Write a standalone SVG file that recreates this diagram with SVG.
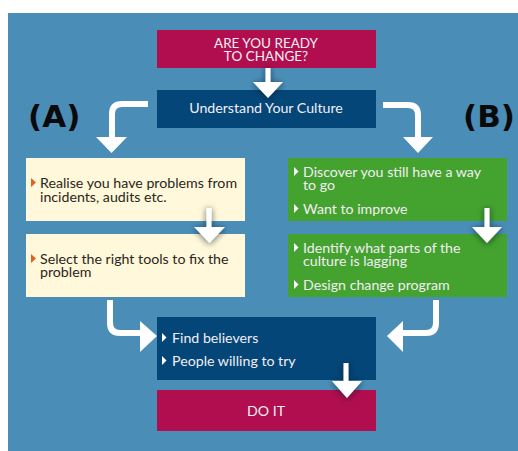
<svg xmlns="http://www.w3.org/2000/svg" width="518" height="451" viewBox="0 0 518 451">
  <style>
    .bg { fill: #4A8EB8; }
    .magenta { fill: #B00E4E; }
    .navy { fill: #044678; }
    .cream { fill: #FFF8DA; }
    .green { fill: #44A22F; }
    .t { font-family: Lato, "Liberation Sans", sans-serif; font-size: 14.2px; }
    .cap { font-size: 13.5px; }
    .light { fill: #F2EEF4; }
    .dark { fill: #2B2620; }
    .ctr { text-anchor: middle; }
    .lbl { font-family: "DejaVu Sans", "Liberation Sans", sans-serif; font-weight: bold; font-size: 31px; fill: #0A0A0A; }
    .wire { fill: none; stroke: #FFFFFF; stroke-width: 6; }
    .stem { fill: none; stroke: #FFFFFF; stroke-width: 5; }
    .head { fill: #FFFFFF; }
    .bul-o { fill: #E2611C; }
    .bul-w { fill: #FFFFFF; }
  </style>
  <defs>
    <filter id="shadow" x="-60%" y="-60%" width="220%" height="220%">
      <feDropShadow dx="0" dy="1" stdDeviation="3" flood-color="#0A1A2A" flood-opacity="0.7"/>
    </filter>
  </defs>

  <rect class="bg" x="8" y="13" width="510" height="438"/>

  <!-- section markers -->
  <text class="lbl" x="28" y="127">(A)</text>
  <text class="lbl" x="463" y="127">(B)</text>

  <g id="ready">
    <rect class="magenta" x="157" y="30" width="219" height="38"/>
    <text class="t cap light ctr" x="266" y="48">ARE YOU READY</text>
    <text class="t cap light ctr" x="266" y="61">TO CHANGE?</text>
  </g>

  <g id="understand">
    <rect class="navy" x="157" y="90" width="219" height="38"/>
    <text class="t light ctr" x="266" y="113">Understand Your Culture</text>
  </g>

  <g id="realise">
    <rect class="cream" x="26" y="158" width="219" height="63"/>
    <polygon class="bul-o" points="31,178 36,182.5 31,187"/>
    <text class="t dark" x="40" y="188">Realise you have problems from</text>
    <text class="t dark" x="40" y="202">incidents, audits etc.</text>
  </g>

  <g id="select">
    <rect class="cream" x="26" y="234" width="219" height="63"/>
    <polygon class="bul-o" points="31,254 36,258.5 31,263"/>
    <text class="t dark" x="40" y="264">Select the right tools to fix the</text>
    <text class="t dark" x="40" y="277">problem</text>
  </g>

  <g id="discover">
    <rect class="green" x="288" y="158" width="219" height="63"/>
    <polygon class="bul-w" points="294,167 298.5,171.5 294,176"/>
    <text class="t light" x="303" y="177">Discover you still have a way</text>
    <text class="t light" x="303" y="190">to go</text>
    <polygon class="bul-w" points="294,204 298.5,208.5 294,213"/>
    <text class="t light" x="303" y="214">Want to improve</text>
  </g>

  <g id="identify">
    <rect class="green" x="288" y="234" width="219" height="63"/>
    <polygon class="bul-w" points="294,243 298.5,247.5 294,252"/>
    <text class="t light" x="303" y="253">Identify what parts of the</text>
    <text class="t light" x="303" y="266">culture is lagging</text>
    <polygon class="bul-w" points="294,280 298.5,284.5 294,289"/>
    <text class="t light" x="303" y="290">Design change program</text>
  </g>

  <g id="believers">
    <rect class="navy" x="157" y="317" width="219" height="63"/>
    <polygon class="bul-w" points="162,333 166.5,337.5 162,342"/>
    <text class="t light" x="172" y="343">Find believers</text>
    <polygon class="bul-w" points="162,356 166.5,360.5 162,365"/>
    <text class="t light" x="172" y="366">People willing to try</text>
  </g>

  <g id="doit">
    <rect class="magenta" x="157" y="390" width="219" height="41"/>
    <text class="t light ctr" x="266" y="416">DO IT</text>
  </g>

  <g id="connectors">
    <!-- ready -> understand -->
    <g filter="url(#shadow)">
      <line class="stem" x1="268" y1="68" x2="268" y2="84"/>
      <polygon class="head" points="253,82 283,82 268,98"/>
    </g>
    <!-- understand -> realise (A) -->
    <path class="wire" d="M148,104 H122 Q112,104 112,114 V139"/>
    <polygon class="head" points="96,137 127,137 111.5,153"/>
    <!-- understand -> discover (B) -->
    <path class="wire" d="M383,105 H408 Q418,105 418,115 V139"/>
    <polygon class="head" points="403,137 433,137 418,153"/>
    <!-- realise -> select -->
    <g filter="url(#shadow)">
      <line class="stem" x1="209" y1="208" x2="209" y2="229"/>
      <polygon class="head" points="194,227 225,227 209.5,243"/>
    </g>
    <!-- discover -> identify -->
    <g filter="url(#shadow)">
      <line class="stem" x1="487" y1="208" x2="487" y2="229"/>
      <polygon class="head" points="472,227 502,227 487,243"/>
    </g>
    <!-- select -> believers -->
    <path class="wire" d="M110,300 V323 Q110,333 120,333 H142"/>
    <polygon class="head" points="140,321 157,336 140,352"/>
    <!-- identify -> believers -->
    <path class="wire" d="M436,300 V323 Q436,333 426,333 H401"/>
    <polygon class="head" points="403,321 387,336 403,352"/>
    <!-- believers -> do it -->
    <g filter="url(#shadow)">
      <line class="stem" x1="346" y1="363" x2="346" y2="383"/>
      <polygon class="head" points="332,381 362,381 347,398"/>
    </g>
  </g>
</svg>
